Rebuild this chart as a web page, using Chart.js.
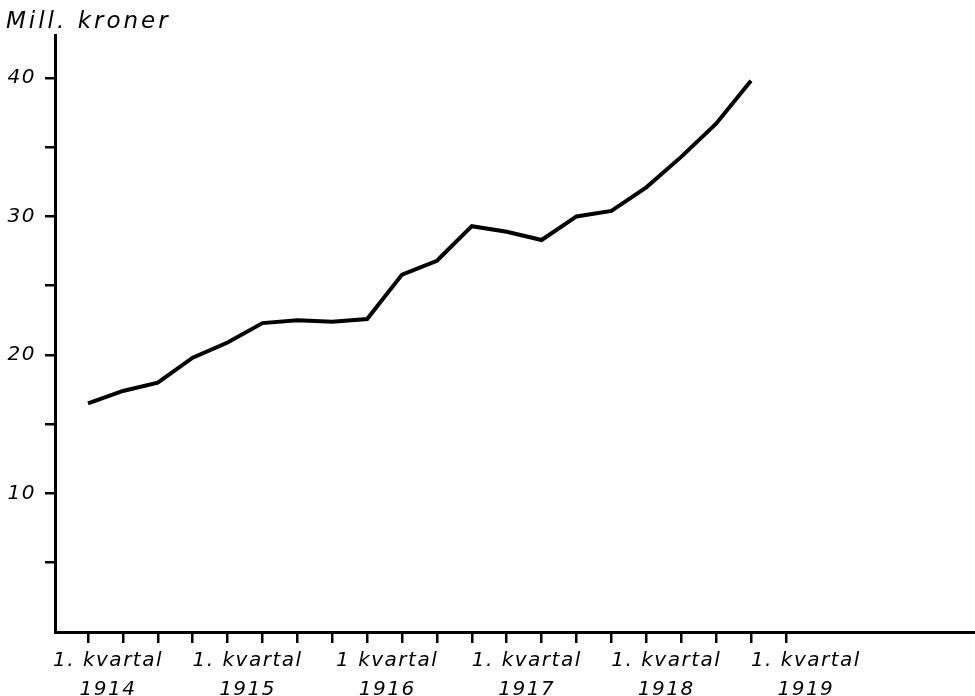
<!DOCTYPE html>
<html>
<head>
<meta charset="utf-8">
<script src="https://cdn.jsdelivr.net/npm/chart.js@4.4.0/dist/chart.umd.min.js"></script>
<style>
  html, body { margin: 0; padding: 0; background: #fff; }
  #wrap { width: 975px; height: 696px; }
</style>
</head>
<body>
<div id="wrap"><canvas id="mycanvas"></canvas></div>
<script>
// quarterly figures, 1. kvartal 1914 .. 4. kvartal 1918 (mill. kroner)
const quarterIndex = [0, 1, 2, 3, 4, 5, 6, 7, 8, 9, 10, 11, 12, 13, 14, 15, 16, 17, 18, 19];
const values = [16.5, 17.4, 18.0, 19.8, 20.9, 22.3, 22.5, 22.4, 22.6, 25.8,
                26.8, 29.3, 28.9, 28.3, 30.0, 30.4, 32.1, 34.3, 36.7, 39.8];
const yearLabels = ['1914', '1915', '1916', '1917', '1918', '1919'];
const quarterLabels = ['1. kvartal', '1. kvartal', '1 kvartal', '1. kvartal', '1. kvartal', '1. kvartal'];
const yTickValues = [5, 10, 15, 20, 25, 30, 35, 40];
const unitLabel = 'Mill. kroner';

const labelFont = { family: 'DejaVu Sans', size: 20, style: 'italic', lineHeight: 1.47 };

// lettering on the axes is spaced out a bit, canvas resets it on resize
const lettering = {
  id: 'lettering',
  beforeUpdate(chart) { chart.ctx.letterSpacing = '1.5px'; },
  beforeDraw(chart) { chart.ctx.letterSpacing = '1.5px'; },
  afterDraw(chart) {
    const ctx = chart.ctx;
    ctx.save();
    ctx.letterSpacing = '3px';
    ctx.font = 'italic 23px "DejaVu Sans"';
    ctx.fillStyle = '#000';
    ctx.textBaseline = 'alphabetic';
    ctx.textAlign = 'left';
    ctx.fillText(unitLabel, 6, 28);
    ctx.restore();
  }
};

const ctx = document.getElementById('mycanvas');
window.myChart = new Chart(ctx, {
  type: 'line',
  data: {
    datasets: [{
      data: quarterIndex.map((q, i) => ({ x: q, y: values[i] })),
      borderColor: '#000',
      borderWidth: 4,
      pointRadius: 0,
      tension: 0,
      borderJoinStyle: 'miter'
    }]
  },
  options: {
    responsive: true,
    maintainAspectRatio: false,
    animation: false,
    layout: { padding: { left: 7, top: 35, right: 0, bottom: 0 } },
    plugins: {
      legend: { display: false },
      tooltip: { enabled: false }
    },
    scales: {
      x: {
        type: 'linear',
        min: -0.946,
        max: 25.42,
        afterBuildTicks: (scale) => {
          scale.ticks = Array.from({ length: yearLabels.length * 4 - 3 }, (_, i) => ({ value: i }));
        },
        afterFit: (scale) => { scale.height = 64; },
        grid: { drawOnChartArea: false, color: '#000', lineWidth: 2.5, tickLength: 11 },
        border: { display: true, color: '#000', width: 3 },
        ticks: {
          color: '#000',
          font: labelFont,
          maxRotation: 0,
          autoSkip: false,
          padding: 3,
          labelOffset: 20,
          callback: (v) => (v % 4 === 0 ? [quarterLabels[v / 4], yearLabels[v / 4]] : '')
        }
      },
      y: {
        min: 0,
        max: 43.1,
        afterBuildTicks: (scale) => {
          scale.ticks = yTickValues.map(v => ({ value: v }));
        },
        afterFit: (scale) => { scale.width = 48; },
        grid: { drawOnChartArea: false, color: '#000', lineWidth: 2.5, tickLength: 10 },
        border: { display: true, color: '#000', width: 3 },
        ticks: {
          color: '#000',
          font: { family: 'DejaVu Sans', size: 20, style: 'italic' },
          padding: 9,
          callback: (v) => (v % 10 === 0 ? String(v) : '')
        }
      }
    }
  },
  plugins: [lettering]
});
</script>
</body>
</html>
